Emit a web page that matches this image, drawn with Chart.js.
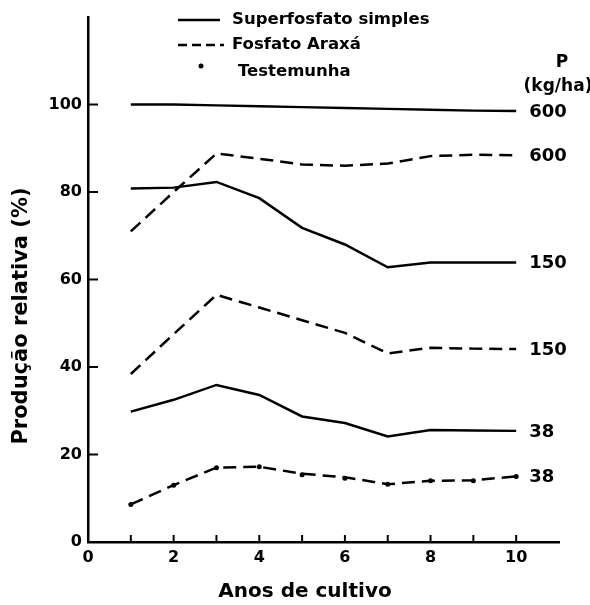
<!DOCTYPE html>
<html>
<head>
<meta charset="utf-8">
<script src="https://cdn.jsdelivr.net/npm/chart.js@4/dist/chart.umd.min.js"></script>
<style>
  body { margin: 0; background: #fff; }
</style>
</head>
<body>
<canvas id="chart" width="590" height="605"></canvas>
<script>
// Years of cultivation (x axis)
var years = [1, 2, 3, 4, 5, 6, 7, 8, 9, 10];

// Relative yield (%)
var superfosfato600 = [100, 100, 99.8, 99.6, 99.4, 99.2, 99, 98.8, 98.6, 98.5];
var araxa600 = [71, 80, 88.8, 87.6, 86.3, 86, 86.5, 88.2, 88.5, 88.4];
var superfosfato150 = [80.8, 81, 82.3, 78.6, 71.8, 68, 62.8, 63.9, 63.9, 63.9];
var araxa150 = [38.4, 47.5, 56.5, 53.6, 50.7, 47.8, 43.1, 44.4, 44.2, 44.1];
var superfosfato38 = [29.8, 32.5, 35.9, 33.6, 28.7, 27.2, 24.1, 25.6, 25.5, 25.4];
var araxa38 = [8.6, 13, 17, 17.2, 15.6, 14.8, 13.2, 14, 14.1, 15];
var testemunha = [8.6, 13, 17, 17.2, 15.4, 14.6, 13.2, 14, 14, 15];

// P doses written at the end of each curve
var doseLabels = ['600', '600', '150', '150', '38', '38'];

var yTicks = [0, 20, 40, 60, 80, 100];
var xTickLabels = [0, 2, 4, 6, 8, 10];

var FONT = '"DejaVu Sans", sans-serif';
var DASH = [13, 7];

function points(values) {
    return years.map(function (x, i) {
        return {x: x, y: values[i]};
    });
}

function curve(values, dashed, endLabel) {
    return {
        data: points(values),
        borderColor: '#000',
        borderWidth: 2.5,
        borderDash: dashed ? DASH : [],
        pointRadius: 0,
        tension: 0,
        fill: false,
        endLabel: endLabel
    };
}

/**
 * Tick marks inside the axes, dose labels, legend and axis titles.
 */
var annotate = {
    id: 'annotate',
    afterDraw: function (chart) {
        var ctx = chart.ctx;
        var xs = chart.scales.x;
        var ys = chart.scales.y;

        ctx.save();
        ctx.strokeStyle = '#000';
        ctx.fillStyle = '#000';
        ctx.lineWidth = 2;
        ctx.setLineDash([]);

        // Inner ticks
        years.forEach(function (v) {
            var px = xs.getPixelForValue(v);
            ctx.beginPath();
            ctx.moveTo(px, ys.bottom);
            ctx.lineTo(px, ys.bottom - 7);
            ctx.stroke();
        });
        yTicks.forEach(function (v) {
            if (v === 0) return;
            var py = ys.getPixelForValue(v);
            ctx.beginPath();
            ctx.moveTo(xs.left, py);
            ctx.lineTo(xs.left + 10, py);
            ctx.stroke();
        });

        // Dose labels at curve ends
        ctx.font = 'bold 18px ' + FONT;
        ctx.textAlign = 'left';
        ctx.textBaseline = 'middle';
        chart.data.datasets.forEach(function (ds, i) {
            if (!ds.endLabel) return;
            var meta = chart.getDatasetMeta(i);
            var last = meta.data[meta.data.length - 1];
            ctx.fillText(ds.endLabel, last.x + 13, last.y + 1);
        });
        ctx.font = 'bold 17px ' + FONT;
        ctx.textAlign = 'center';
        ctx.fillText('P', 562, 63);
        ctx.fillText('(kg/ha)', 558, 87);

        // Legend
        ctx.font = 'bold 16.5px ' + FONT;
        ctx.textAlign = 'left';
        ctx.lineWidth = 2.5;
        ctx.beginPath();
        ctx.moveTo(178, 20);
        ctx.lineTo(220, 20);
        ctx.stroke();
        ctx.fillText('Superfosfato simples', 232, 20);

        ctx.setLineDash([9, 5]);
        ctx.beginPath();
        ctx.moveTo(178, 45);
        ctx.lineTo(224, 45);
        ctx.stroke();
        ctx.setLineDash([]);
        ctx.fillText('Fosfato Araxá', 232, 45);

        ctx.beginPath();
        ctx.arc(201, 66, 2.5, 0, Math.PI * 2);
        ctx.fill();
        ctx.fillText('Testemunha', 238, 72);

        // Axis titles
        ctx.font = 'bold 20px ' + FONT;
        ctx.textAlign = 'center';
        ctx.fillText('Anos de cultivo', 305, 592);
        ctx.font = 'bold 21px ' + FONT;
        ctx.translate(22, 316);
        ctx.rotate(-Math.PI / 2);
        ctx.fillText('Produção relativa (%)', 0, 0);

        ctx.restore();
    }
};

var datasets = [
    curve(superfosfato600, false, doseLabels[0]),
    curve(araxa600, true, doseLabels[1]),
    curve(superfosfato150, false, doseLabels[2]),
    curve(araxa150, true, doseLabels[3]),
    curve(superfosfato38, false, doseLabels[4]),
    curve(araxa38, true, doseLabels[5]),
    {
        data: points(testemunha),
        showLine: false,
        pointRadius: 2.5,
        pointBackgroundColor: '#000',
        pointBorderWidth: 0
    }
];

new Chart(document.getElementById('chart'), {
    type: 'line',
    data: {datasets: datasets},
    plugins: [annotate],
    options: {
        responsive: false,
        animation: false,
        layout: {
            padding: {top: 17, right: 31, left: 0, bottom: 0}
        },
        plugins: {
            legend: {display: false},
            tooltip: {enabled: false}
        },
        scales: {
            x: {
                type: 'linear',
                min: 0,
                max: 11,
                afterFit: function (scale) {
                    scale.height = 63;
                },
                grid: {display: false, drawTicks: false},
                border: {display: true, color: '#000', width: 2.5},
                ticks: {
                    stepSize: 1,
                    autoSkip: false,
                    maxRotation: 0,
                    padding: 6,
                    color: '#000',
                    font: {family: FONT, size: 16, weight: 'bold'},
                    callback: function (v) {
                        return xTickLabels.indexOf(v) >= 0 ? String(v) : '';
                    }
                }
            },
            y: {
                min: 0,
                max: 120,
                afterFit: function (scale) {
                    scale.width = 88;
                },
                grid: {display: false, drawTicks: false},
                border: {display: true, color: '#000', width: 2.5},
                ticks: {
                    stepSize: 20,
                    padding: 6,
                    color: '#000',
                    font: {family: FONT, size: 16, weight: 'bold'},
                    callback: function (v) {
                        return yTicks.indexOf(v) >= 0 ? String(v) : '';
                    }
                }
            }
        }
    }
});
</script>
</body>
</html>
